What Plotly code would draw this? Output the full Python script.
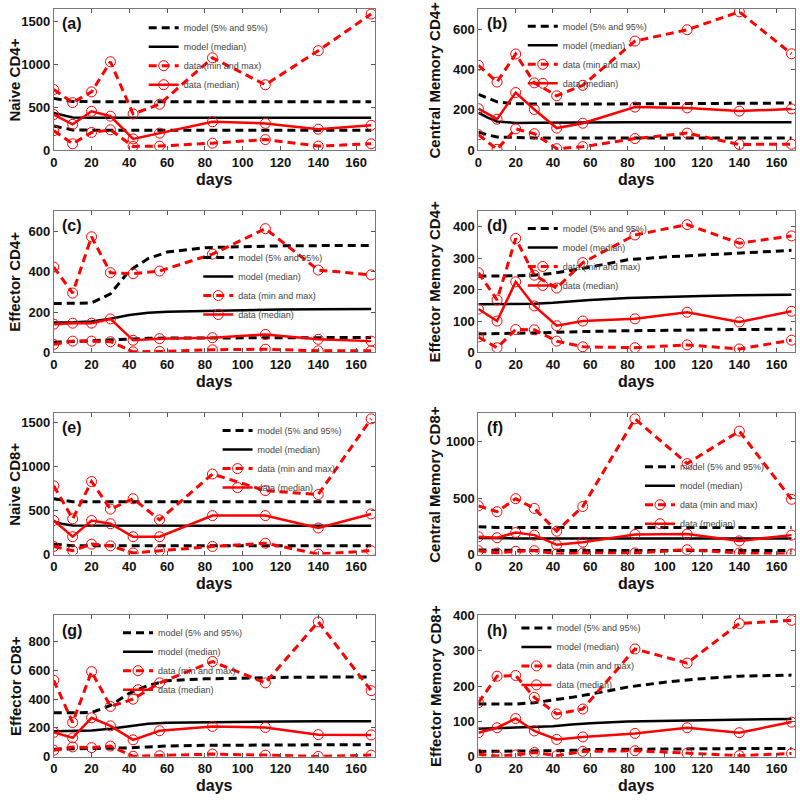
import plotly.graph_objects as go

# sampling days for data and model curves
data_days = [0, 10, 20, 30, 42, 56, 84, 112, 140, 168]
model_days = [0, 5, 10, 20, 30, 40, 50, 60, 80, 100, 120, 140, 168]

panel_tags = ["(a)", "(b)", "(c)", "(d)", "(e)", "(f)", "(g)", "(h)"]
cell_names = ["Naive CD4+", "Central Memory CD4+", "Effector CD4+", "Effector Memory CD4+",
              "Naive CD8+", "Central Memory CD8+", "Effector CD8+", "Effector Memory CD8+"]
y_tops = [1650, 700, 700, 450, 1600, 1250, 980, 400]
y_steps = [500, 200, 200, 100, 500, 500, 200, 100]

# (a) naive CD4+
a_max = [710, 557, 682, 1034, 424, 538, 1080, 765, 1163, 1591]
a_med = [417, 303, 455, 398, 133, 200, 333, 314, 246, 292]
a_min = [230, 76, 208, 239, 45, 49, 83, 125, 49, 76]
a_m95 = [606, 585, 570, 568, 568, 568, 568, 568, 568, 568, 568, 568, 568]
a_m50 = [435, 405, 382, 379, 379, 379, 379, 379, 379, 379, 379, 379, 379]
a_m05 = [284, 258, 238, 235, 235, 235, 235, 235, 235, 235, 235, 235, 235]

# (b) central memory CD4+
b_max = [421, 338, 477, 334, 270, 322, 541, 597, 686, 478]
b_med = [206, 154, 286, 202, 110, 134, 214, 210, 194, 205]
b_min = [77, 5, 106, 82, 8, 18, 58, 85, 29, 30]
b_m95 = [277, 258, 240, 230, 229, 229, 229, 229, 230, 231, 232, 233, 234]
b_m50 = [186, 162, 143, 135, 136, 137, 138, 138, 139, 139, 139, 139, 139]
b_m05 = [90, 76, 66, 62, 61, 61, 61, 61, 61, 61, 61, 61, 61]

# (c) effector CD4+
c_max = [423, 294, 573, 395, 390, 403, 487, 613, 408, 384]
c_med = [140, 145, 145, 166, 60, 68, 73, 89, 65, 56]
c_min = [40, 56, 56, 53, 3, 5, 13, 16, 8, 8]
c_m95 = [242, 242, 242, 245, 290, 405, 465, 497, 519, 524, 528, 529, 530]
c_m50 = [148, 148, 149, 153, 167, 185, 196, 201, 206, 210, 213, 214, 215]
c_m05 = [50, 52, 54, 57, 62, 68, 70, 71, 72, 73, 73, 74, 74]

# (d) effector memory CD4+
d_max = [254, 167, 363, 246, 205, 286, 374, 407, 348, 371]
d_med = [138, 100, 225, 148, 85, 100, 107, 128, 97, 131]
d_min = [49, 15, 73, 72, 36, 18, 15, 24, 11, 39]
d_m95 = [243, 243, 243, 244, 246, 252, 262, 272, 295, 304, 310, 316, 325]
d_m50 = [153, 153, 153, 154, 155, 158, 163, 167, 173, 177, 180, 182, 184]
d_m05 = [59, 59, 60, 61, 62, 64, 66, 67, 69, 71, 72, 73, 74]

# (e) naive CD8+
e_max = [779, 404, 827, 515, 632, 393, 912, 724, 680, 1537]
e_med = [386, 202, 386, 349, 202, 202, 441, 441, 301, 460]
e_min = [92, 44, 118, 99, 18, 44, 92, 129, 5, 44]
e_m95 = [632, 612, 598, 598, 598, 598, 598, 598, 598, 598, 598, 598, 598]
e_m50 = [375, 345, 328, 327, 327, 327, 327, 327, 327, 327, 327, 327, 327]
e_m05 = [118, 106, 100, 99, 99, 99, 99, 99, 99, 99, 99, 99, 99]

# (f) central memory CD8+
f_max = [431, 379, 494, 408, 207, 425, 1201, 805, 1092, 489]
f_med = [158, 149, 195, 172, 86, 109, 178, 181, 121, 172]
f_min = [34, 14, 29, 34, 6, 14, 14, 43, 14, 6]
f_m95 = [245, 242, 240, 240, 240, 240, 240, 240, 240, 240, 240, 240, 240]
f_m50 = [146, 144, 143, 143, 143, 143, 143, 143, 143, 143, 143, 143, 143]
f_m05 = [40, 38, 37, 37, 37, 37, 37, 37, 37, 37, 37, 37, 37]

# (g) effector CD8+
g_max = [530, 237, 590, 349, 399, 512, 660, 512, 935, 458]
g_med = [169, 131, 270, 214, 117, 180, 210, 203, 153, 151]
g_min = [45, 68, 63, 74, 3, 7, 18, 11, 2, 11]
g_m95 = [304, 304, 304, 306, 355, 440, 495, 527, 540, 546, 550, 552, 552]
g_m50 = [176, 177, 178, 181, 194, 213, 228, 235, 240, 243, 245, 246, 246]
g_m05 = [52, 53, 54, 56, 58, 61, 68, 74, 79, 81, 83, 83, 84]

# (h) effector memory CD8+
h_max = [153, 228, 230, 168, 121, 135, 305, 265, 377, 386]
h_med = [68, 82, 108, 73, 49, 56, 66, 82, 68, 98]
h_min = [7, 2, 5, 12, 3, 15, 17, 10, 3, 9]
h_m95 = [149, 149, 149, 149, 153, 160, 168, 177, 197, 211, 221, 228, 231]
h_m50 = [79, 80, 80, 82, 84, 86, 91, 95, 100, 102, 104, 105, 107]
h_m05 = [15, 15, 15, 16, 16, 17, 18, 20, 21, 22, 22, 23, 23]

panels = [
    (a_max, a_med, a_min, a_m95, a_m50, a_m05),
    (b_max, b_med, b_min, b_m95, b_m50, b_m05),
    (c_max, c_med, c_min, c_m95, c_m50, c_m05),
    (d_max, d_med, d_min, d_m95, d_m50, d_m05),
    (e_max, e_med, e_min, e_m95, e_m50, e_m05),
    (f_max, f_med, f_min, f_m95, f_m50, f_m05),
    (g_max, g_med, g_min, g_m95, g_m50, g_m05),
    (h_max, h_med, h_min, h_m95, h_m50, h_m05),
]

# layout bits (paper fractions)
col_dom = [[0.0625, 0.466], [0.596, 0.994]]
row_dom = [[0.8184, 0.9975], [0.5622, 0.7413], [0.3060, 0.4851], [0.0498, 0.2289]]
# legend anchor inside each panel: (x frac, y frac, y anchor)
legend_pos = [(0.28, 0.97, "top"), (0.14, 0.98, "top"), (0.45, 0.47, "middle"), (0.14, 0.98, "top"),
              (0.51, 0.98, "top"), (0.51, 0.42, "middle"), (0.20, 0.98, "top"), (0.12, 0.71, "middle")]

NARROW = "Liberation Sans Narrow, Arial Narrow, Liberation Sans, Arial, sans-serif"
RED = "#ff0000"
dash = "8px,5px"

fig = go.Figure()
layout = dict(width=800, height=804, margin=dict(l=0, r=0, t=0, b=0),
              plot_bgcolor="white", paper_bgcolor="white", showlegend=True)
annotations = []

for i, (dmax, dmed, dmin, m95, m50, m05) in enumerate(panels):
    n = i + 1
    sfx = "" if n == 1 else str(n)
    xa, ya = "x" + sfx, "y" + sfx
    leg = "legend" + sfx
    xd = col_dom[i % 2]
    yd = row_dom[i // 2]

    fig.add_trace(go.Scatter(x=model_days, y=m95, mode="lines", name="model (5% and 95%)",
                             line=dict(color="black", width=3, dash=dash),
                             xaxis=xa, yaxis=ya, legend=leg))
    fig.add_trace(go.Scatter(x=model_days, y=m05, mode="lines", showlegend=False,
                             line=dict(color="black", width=3, dash=dash),
                             xaxis=xa, yaxis=ya, legend=leg))
    fig.add_trace(go.Scatter(x=model_days, y=m50, mode="lines", name="model (median)",
                             line=dict(color="black", width=2.5),
                             xaxis=xa, yaxis=ya, legend=leg))
    fig.add_trace(go.Scatter(x=data_days, y=dmax, mode="lines+markers", name="data (min and max)",
                             line=dict(color=RED, width=3, dash=dash),
                             marker=dict(symbol="circle-open", size=10, color=RED, line=dict(width=1)),
                             xaxis=xa, yaxis=ya, legend=leg))
    fig.add_trace(go.Scatter(x=data_days, y=dmin, mode="lines+markers", showlegend=False,
                             line=dict(color=RED, width=3, dash=dash),
                             marker=dict(symbol="circle-open", size=10, color=RED, line=dict(width=1)),
                             xaxis=xa, yaxis=ya, legend=leg))
    fig.add_trace(go.Scatter(x=data_days, y=dmed, mode="lines+markers", name="data (median)",
                             line=dict(color=RED, width=2.5),
                             marker=dict(symbol="circle-open", size=10, color=RED, line=dict(width=1)),
                             xaxis=xa, yaxis=ya, legend=leg))

    axis_common = dict(showline=True, linecolor="#777", linewidth=1, mirror="ticks",
                       ticks="inside", ticklen=4, tickcolor="#555", showgrid=False, zeroline=False,
                       tickfont=dict(family=NARROW, size=13, color="#111", weight="bold"))
    layout["xaxis" + sfx] = dict(axis_common, domain=xd, anchor=ya, range=[0, 170],
                                 tickvals=list(range(0, 161, 20)))
    layout["yaxis" + sfx] = dict(axis_common, domain=yd, anchor=xa, range=[0, y_tops[i]],
                                 dtick=y_steps[i])

    lx, ly, lanchor = legend_pos[i]
    layout[leg] = dict(x=xd[0] + lx * (xd[1] - xd[0]), y=yd[0] + ly * (yd[1] - yd[0]),
                       xanchor="left", yanchor=lanchor, bgcolor="rgba(0,0,0,0)",
                       font=dict(family="Liberation Sans, Arial, sans-serif", size=9, color="#444"),
                       itemwidth=30, tracegroupgap=0)

    annotations.append(dict(text=panel_tags[i], xref=xa + " domain", yref=ya + " domain",
                            x=0.02, y=0.97, xanchor="left", yanchor="top", showarrow=False,
                            font=dict(family="Liberation Sans, Arial, sans-serif", size=16,
                                      color="#111", weight="bold")))
    annotations.append(dict(text=cell_names[i], xref="paper", yref="paper",
                            x=(11 if i % 2 == 0 else 433) / 800, y=(yd[0] + yd[1]) / 2,
                            xanchor="center", yanchor="middle", textangle=-90, showarrow=False,
                            font=dict(family=NARROW, size=15, color="#111", weight="bold")))
    annotations.append(dict(text="days", xref=xa + " domain", yref=ya + " domain",
                            x=0.5, y=0, yshift=-29, xanchor="center", yanchor="middle",
                            showarrow=False,
                            font=dict(family=NARROW, size=16, color="#111", weight="bold")))

layout["annotations"] = annotations
fig.update_layout(**layout)

# drop the page's default body margin so the 800x804 figure sits flush in the window
fig.write_html("out.html", config={"displayModeBar": False},
               post_script="document.body.style.margin='0';")
